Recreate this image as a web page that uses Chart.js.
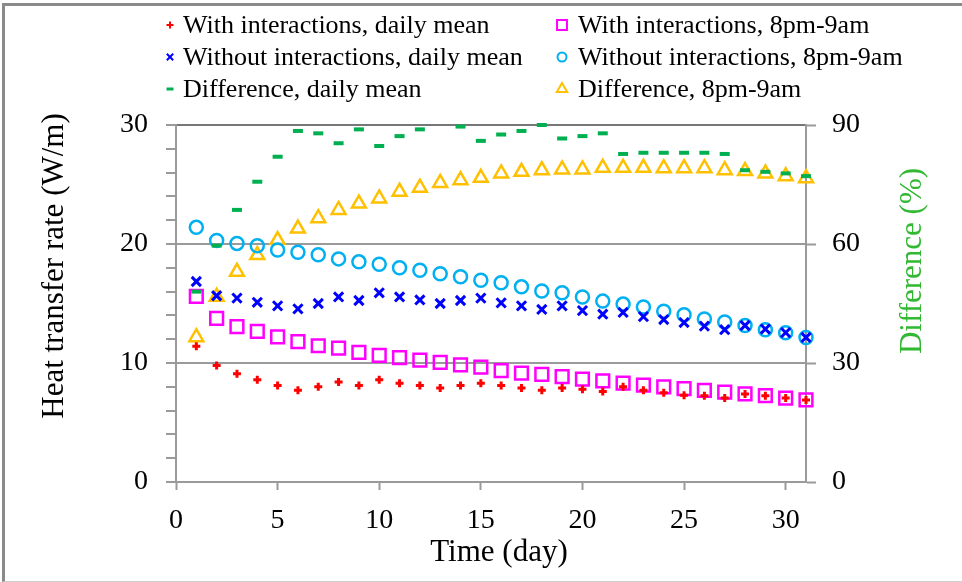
<!DOCTYPE html>
<html>
<head>
<meta charset="utf-8">
<script src="https://cdn.jsdelivr.net/npm/chart.js@4/dist/chart.umd.min.js"></script>
<style>
  body { margin: 0; background: #fff; }
  #wrap { position: relative; width: 962px; height: 582px; }
  #frame { position: absolute; left: 2px; top: 3px; right: 0; bottom: 0;
           border-top: 3px solid #8a8a8a; border-left: 3px solid #8a8a8a;
           border-bottom: 1px solid #cfcfcf; pointer-events: none; }
  canvas { position: absolute; left: 0; top: 0; }
</style>
</head>
<body>
<div id="wrap">
  <canvas id="chart" width="962" height="582"></canvas>
  <div id="frame"></div>
</div>
<script>
// days of the test
var days = [1, 2, 3, 4, 5, 6, 7, 8, 9, 10, 11, 12, 13, 14, 15, 16,
            17, 18, 19, 20, 21, 22, 23, 24, 25, 26, 27, 28, 29, 30, 31];

// heat transfer rate, W/m
var withDaily = [11.4, 9.8, 9.1, 8.6, 8.1, 7.7, 8.0, 8.4, 8.1, 8.6, 8.3, 8.1, 7.9, 8.1, 8.3, 8.1,
                 7.9, 7.7, 7.9, 7.8, 7.6, 8.0, 7.7, 7.5, 7.3, 7.25, 7.05, 7.4, 7.25, 7.05, 6.9];
var withNight = [15.6, 13.75, 13.05, 12.65, 12.2, 11.8, 11.45, 11.25, 10.9, 10.65, 10.45, 10.25, 10.05, 9.85, 9.65, 9.35,
                 9.15, 9.05, 8.85, 8.65, 8.5, 8.3, 8.15, 8.0, 7.85, 7.7, 7.55, 7.4, 7.25, 7.05, 6.9];
var withoutDaily = [16.85, 15.65, 15.45, 15.1, 14.8, 14.55, 15.0, 15.55, 15.25, 15.9, 15.55, 15.3, 15.0, 15.25, 15.45, 15.05,
                    14.8, 14.5, 14.8, 14.4, 14.1, 14.25, 13.9, 13.65, 13.4, 13.1, 12.8, 13.15, 12.85, 12.55, 12.15];
var withoutNight = [21.4, 20.3, 20.05, 19.85, 19.5, 19.3, 19.1, 18.75, 18.5, 18.3, 18.0, 17.8, 17.5, 17.25, 16.95, 16.75,
                    16.4, 16.05, 15.9, 15.55, 15.2, 14.95, 14.7, 14.35, 14.05, 13.7, 13.45, 13.15, 12.8, 12.55, 12.15];

// difference, %
var diffDaily = [48.0, 59.6, 68.6, 75.7, 82.0, 88.5, 87.9, 85.4, 88.9, 84.7, 87.2, 88.9, null, 89.6, 86.0, 87.6,
                 88.5, 90.0, 86.6, 87.2, 87.9, 82.7, 83.0, 83.0, 83.0, 83.0, 82.7, 78.6, 78.2, 77.8, 77.1];
var diffNight = [36.5, 46.7, 53.0, 57.2, 61.0, 63.9, 66.5, 68.6, 70.2, 71.5, 73.2, 74.2, 75.4, 76.1, 76.7, 77.8,
                 78.2, 78.6, 78.8, 78.8, 79.2, 79.2, 79.2, 79.1, 79.1, 79.1, 78.6, 78.4, 77.8, 77.1, 76.6];

var FONT = '"Liberation Serif", "Times New Roman", serif';
var GRID = '#9a9a9a';

function pts(vals) {
    return days.map(function (d, i) { return { x: d, y: vals[i] }; });
}

function series(label, vals, axis, style, color, radius, width) {
    return {
        label: label,
        data: pts(vals),
        yAxisID: axis,
        pointStyle: style,
        pointRadius: radius,
        pointBorderWidth: width,
        pointBorderColor: color,
        pointBackgroundColor: 'rgba(0,0,0,0)',
        showLine: false,
        clip: false
    };
}

// legend entries: [label, style, colour, radius, column, row]
var legendItems = [
    ['With interactions, daily mean', 'cross', '#ff0000', 3.5, 0, 0],
    ['Without interactions, daily mean', 'crossRot', '#0000ff', 4.5, 0, 1],
    ['Difference, daily mean', 'line', '#00b050', 3.5, 0, 2],
    ['With interactions, 8pm-9am', 'rect', '#ff00ff', 7, 1, 0],
    ['Without interactions, 8pm-9am', 'circle', '#00b0f0', 4.5, 1, 1],
    ['Difference, 8pm-9am', 'triangle', '#ffc000', 6, 1, 2]
];

function marker(ctx, style, x, y, r) {
    ctx.beginPath();
    if (style === 'cross') {
        ctx.moveTo(x - r, y); ctx.lineTo(x + r, y);
        ctx.moveTo(x, y - r); ctx.lineTo(x, y + r);
    } else if (style === 'crossRot') {
        var o = r * Math.SQRT1_2;
        ctx.moveTo(x - o, y - o); ctx.lineTo(x + o, y + o);
        ctx.moveTo(x - o, y + o); ctx.lineTo(x + o, y - o);
    } else if (style === 'line') {
        ctx.moveTo(x - r, y); ctx.lineTo(x + r, y);
    } else if (style === 'rect') {
        var s = r * Math.SQRT1_2;
        ctx.rect(x - s, y - s, 2 * s, 2 * s);
    } else if (style === 'circle') {
        ctx.arc(x, y, r, 0, Math.PI * 2);
    } else if (style === 'triangle') {
        ctx.moveTo(x, y - r);
        ctx.lineTo(x + r * 0.866, y + r / 2);
        ctx.lineTo(x - r * 0.866, y + r / 2);
        ctx.closePath();
    }
    ctx.stroke();
}

// legend grid and axis titles
var decorations = {
    id: 'decorations',
    afterDraw: function (chart) {
        var ctx = chart.ctx;
        ctx.save();
        ctx.font = '26px ' + FONT;
        ctx.textBaseline = 'middle';
        ctx.textAlign = 'left';
        var colX = [[170, 183], [562, 578]];
        var rowY = [25, 57, 89];
        legendItems.forEach(function (it) {
            var mx = colX[it[4]][0], tx = colX[it[4]][1], y = rowY[it[5]];
            ctx.strokeStyle = it[2];
            ctx.lineWidth = it[1] === 'line' ? 3 : 2;
            marker(ctx, it[1], mx, y, it[3]);
            ctx.fillStyle = '#000';
            ctx.fillText(it[0], tx, y + 1);
        });

        ctx.font = '31px ' + FONT;
        ctx.textAlign = 'center';
        ctx.fillStyle = '#000';
        ctx.fillText('Time (day)', 499, 553);

        ctx.save();
        ctx.translate(55, 266);
        ctx.rotate(-Math.PI / 2);
        ctx.fillText('Heat transfer rate (W/m)', 0, 0);
        ctx.restore();

        ctx.save();
        ctx.translate(913, 261);
        ctx.rotate(-Math.PI / 2);
        ctx.fillStyle = '#33b833';
        ctx.fillText('Difference (%)', 0, 0);
        ctx.restore();
        ctx.restore();
    }
};

Chart.defaults.color = '#000';
Chart.defaults.font.family = FONT;

var chart = new Chart(document.getElementById('chart'), {
    type: 'scatter',
    data: {
        datasets: [
            series('With interactions, daily mean', withDaily, 'y', 'cross', '#ff0000', 4, 3),
            series('Without interactions, daily mean', withoutDaily, 'y', 'crossRot', '#0000ff', 6.5, 3),
            series('Difference, daily mean', diffDaily, 'y1', 'line', '#00b050', 5, 4),
            series('With interactions, 8pm-9am', withNight, 'y', 'rect', '#ff00ff', 9, 2.5),
            series('Without interactions, 8pm-9am', withoutNight, 'y', 'circle', '#00b0f0', 6.5, 2.5),
            series('Difference, 8pm-9am', diffNight, 'y1', 'triangle', '#ffc000', 8, 2.5)
        ]
    },
    options: {
        responsive: false,
        animation: false,
        layout: { padding: { top: 125, left: 0, right: 0, bottom: 0 } },
        plugins: { legend: { display: false }, tooltip: { enabled: false } },
        scales: {
            x: {
                type: 'linear',
                min: 0,
                max: 31,
                afterFit: function (s) { s.height = 100; },
                ticks: { stepSize: 5, includeBounds: false, font: { size: 28 }, padding: 14, maxRotation: 0 },
                grid: { drawOnChartArea: false, tickLength: 8, tickColor: GRID, tickWidth: 2 },
                border: { color: GRID, width: 2 }
            },
            y: {
                position: 'left',
                min: 0,
                max: 30,
                afterFit: function (s) { s.width = 176; },
                ticks: {
                    stepSize: 2,
                    autoSkip: false,
                    font: { size: 28 },
                    padding: 18,
                    callback: function (v) { return v % 10 === 0 ? v : ''; }
                },
                grid: {
                    tickLength: 10,
                    tickColor: GRID,
                    tickWidth: 2,
                    lineWidth: 2,
                    color: function (c) {
                        if (!c.tick) return GRID;
                        if (c.tick.value === 30) return '#777';
                        return c.tick.value % 10 === 0 ? GRID : 'rgba(0,0,0,0)';
                    }
                },
                border: { color: GRID, width: 2 }
            },
            y1: {
                position: 'right',
                min: 0,
                max: 90,
                afterFit: function (s) { s.width = 156; },
                ticks: { stepSize: 30, font: { size: 28 }, padding: 16 },
                grid: { drawOnChartArea: false, tickLength: 10, tickColor: GRID, tickWidth: 2 },
                border: { color: GRID, width: 2 }
            }
        }
    },
    plugins: [decorations]
});
</script>
</body>
</html>
